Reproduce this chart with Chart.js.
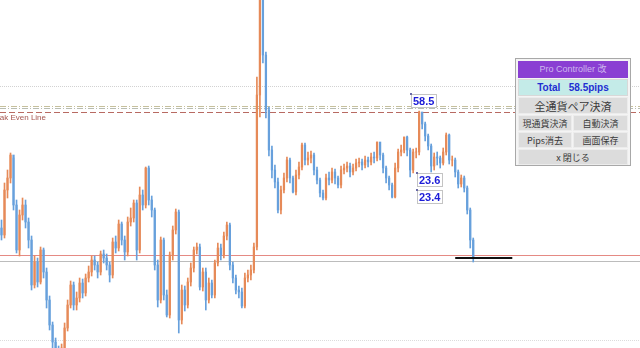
<!DOCTYPE html>
<html>
<head>
<meta charset="utf-8">
<script src="https://cdn.jsdelivr.net/npm/chart.js@4/dist/chart.umd.min.js"></script>
<style>
  html, body { margin: 0; padding: 0; background: #ffffff; }
  #wrap { position: relative; width: 640px; height: 348px; overflow: hidden; }
  canvas { position: absolute; left: 0; top: 0; }
  #panel { position: absolute; left: 515px; top: 58px; width: 114px; height: 106px;
    border: 1px solid #a8a8a8; background: #f4f4f4; font-family: "Noto Sans CJK JP", "Liberation Sans", sans-serif; }
  #panel div { position: absolute; box-sizing: border-box; text-align: center; white-space: nowrap; }
  .hdr { left: 2px; top: 2px; width: 110px; height: 17px; background: #8a3fd3; color: #cdb8ee; font-size: 9px; line-height: 17px; font-family: "Liberation Sans", "Noto Sans CJK JP", sans-serif; }
  .tot { left: 2px; top: 20px; width: 110px; height: 17px; background: #c4ebe8; color: #1f2fd2; font-weight: bold; font-size: 10px; line-height: 16px; font-family: "Liberation Sans", sans-serif; border: 1px solid #d8d8d8; }
  .btn { background: #dcdcdc; border: 1px solid #ececec; color: #3a3a3a; font-size: 9px; line-height: 15px; height: 16px; }
</style>
</head>
<body>
<div id="wrap">
  <canvas id="c" width="640" height="348"></canvas>
  <div id="panel">
    <div class="hdr">Pro Controller 改</div>
    <div class="tot">Total&nbsp;&nbsp;&nbsp;58.5pips</div>
    <div class="btn" style="left:2px;top:38px;width:110px;height:17px;font-size:11px;line-height:16px;">全通貨ペア決済</div>
    <div class="btn" style="left:2px;top:56px;width:54px;">現通貨決済</div>
    <div class="btn" style="left:57px;top:56px;width:55px;">自動決済</div>
    <div class="btn" style="left:2px;top:73px;width:54px;">Pips消去</div>
    <div class="btn" style="left:57px;top:73px;width:55px;">画面保存</div>
    <div class="btn" style="left:2px;top:90px;width:110px;">x 閉じる</div>
  </div>
</div>
<script>
// ---- data (price units) ----
const slotCount = 213;
const categories = Array.from({ length: slotCount }, (_, i) => String(i));
const closes = [
  113,158,170,193,143,98,133,143,126,108,
  63,86,66,98,76,48,23,6,-4,-7,
  0,20,43,63,43,50,65,55,70,76,
  88,83,76,94,90,83,73,106,100,124,
  108,96,126,130,145,98,153,143,180,148,
  138,83,48,108,53,33,93,118,136,28,
  58,43,66,80,98,101,61,76,48,65,
  53,85,100,93,112,123,83,70,58,56,
  42,70,73,78,101,253,351,293,238,198,
  178,166,138,158,170,188,170,156,173,181,
  203,188,190,193,178,168,155,150,170,168,
  176,170,163,178,180,182,176,180,185,186,
  183,188,186,191,190,206,193,180,170,163,
  151,180,196,198,211,198,178,196,196,236,
  224,212,202,182,191,190,185,196,213,188,
  188,176,164,170,160,138,108,90
];
const highs = [
  128,165,178,195,190,148,138,150,148,130,
  112,92,90,101,100,80,52,26,10,2,
  4,25,48,67,66,56,70,69,74,82,
  92,92,86,97,98,94,86,110,112,128,
  126,112,131,140,148,148,161,158,181,182,
  152,140,88,111,110,58,96,122,139,138,
  63,62,70,85,101,105,104,80,80,70,
  68,88,105,104,116,126,125,86,73,62,
  60,75,78,83,105,271,352,352,296,241,
  202,183,170,162,175,191,190,172,178,186,
  205,205,196,197,195,181,170,158,174,176,
  180,179,172,182,184,186,185,184,189,190,
  189,192,191,195,196,206,205,195,182,172,
  165,185,199,203,211,212,200,199,200,237,
  235,226,214,204,195,196,192,200,215,214,
  192,190,178,173,172,162,140,110
];
const lows = [
  108,110,150,165,138,95,92,128,120,100,
  58,60,61,64,70,40,18,0,-10,-10,
  -10,-3,17,40,38,38,46,50,52,66,
  72,78,70,73,85,78,66,70,95,97,
  103,88,92,122,126,88,95,138,140,143,
  131,78,41,45,48,31,30,88,114,15,
  24,37,40,62,76,94,58,57,38,45,
  50,50,82,88,90,108,78,65,54,50,
  40,40,66,68,75,98,231,285,230,192,
  170,160,135,134,155,166,165,155,153,169,
  178,183,183,185,173,164,151,148,148,163,
  165,164,160,160,174,176,171,173,177,181,
  178,180,181,183,185,187,188,175,165,158,
  150,150,176,192,195,192,171,175,190,193,
  219,207,198,176,178,183,180,183,193,184,
  182,171,160,161,156,134,100,86
];
const firstOpen = 120;
const currentPrice = 90;
const priceLineFrom = 151;
const priceLineTo = 170;
const levelValues = [262, 242, 240, 236, 93, 87, 8];
const levelColors = ['#d2d2d2', '#c6c09c', '#b8bdb2', '#b86a62', '#e58a84', '#bcbcbc', '#dcdcdc'];
const levelDashes = [[1, 1], [6, 2, 1, 2], [6, 2, 1, 2], [6, 3], [], [], [1, 1]];
const breakEvenText = 'Break Even Line';
const pipTags = ['58.5', '23.6', '23.4'];
const pipTagIdx = [136, 138, 138];
const pipTagVal = [255, 176, 159];

// ---- build datasets ----
const opens = closes.map((c, i) => (i === 0 ? firstOpen : closes[i - 1]));
const bodies = closes.map((c, i) => [opens[i], c]);
const wicks = closes.map((c, i) => [lows[i], highs[i]]);
const upColor = '#e68a58';
const downColor = '#67a0dc';
const dirColor = (i) => (closes[i] >= opens[i] ? upColor : downColor);
const priceLine = categories.map((_, i) => (i >= priceLineFrom && i <= priceLineTo) ? currentPrice : null);

const overlay = {
  id: 'overlay',
  beforeDatasetsDraw(chart) {
    const ctx = chart.ctx, y = chart.scales.y, area = chart.chartArea;
    ctx.save();
    levelValues.forEach((v, k) => {
      const py = Math.round(y.getPixelForValue(v)) + 0.5;
      ctx.beginPath();
      ctx.setLineDash(levelDashes[k]);
      ctx.strokeStyle = levelColors[k];
      ctx.lineWidth = 1;
      ctx.moveTo(area.left, py);
      ctx.lineTo(area.right, py);
      ctx.stroke();
    });
    ctx.setLineDash([]);
    ctx.font = '8px "Liberation Sans", Arial, sans-serif';
    ctx.fillStyle = '#a5554f';
    ctx.textAlign = 'right';
    ctx.textBaseline = 'alphabetic';
    ctx.fillText(breakEvenText, 46, y.getPixelForValue(levelValues[3]) + 8);
    ctx.restore();
  },
  afterDatasetsDraw(chart) {
    const ctx = chart.ctx, x = chart.scales.x, y = chart.scales.y;
    ctx.save();
    ctx.font = 'bold 11px "Liberation Sans", Arial, sans-serif';
    ctx.textAlign = 'left';
    ctx.textBaseline = 'middle';
    pipTags.forEach((t, k) => {
      const ax = Math.round(x.getPixelForValue(pipTagIdx[k]));
      const ay = Math.round(y.getPixelForValue(pipTagVal[k]));
      const w = Math.ceil(ctx.measureText(t).width) + 3;
      ctx.fillStyle = '#ffffff';
      ctx.fillRect(ax + 1, ay + 1, w, 13);
      ctx.strokeStyle = '#c4c4c4';
      ctx.lineWidth = 1;
      ctx.strokeRect(ax + 1.5, ay + 1.5, w, 13);
      ctx.fillStyle = '#6a6aa8';
      ctx.fillRect(ax, ay, 2, 2);
      ctx.fillStyle = '#1c1cd8';
      ctx.fillText(t, ax + 3, ay + 8.5);
    });
    ctx.restore();
  }
};

new Chart(document.getElementById('c'), {
  type: 'bar',
  data: {
    labels: categories,
    datasets: [
      {
        type: 'line',
        data: priceLine,
        borderColor: '#111111',
        borderWidth: 2,
        pointRadius: 0,
        spanGaps: false,
        order: 0
      },
      {
        type: 'bar',
        data: bodies,
        barThickness: 1.6,
        grouped: false,
        borderSkipped: false,
        backgroundColor: (c) => dirColor(c.dataIndex),
        order: 1
      },
      {
        type: 'bar',
        data: wicks,
        barThickness: 1,
        grouped: false,
        borderSkipped: false,
        backgroundColor: (c) => dirColor(c.dataIndex),
        order: 2
      }
    ]
  },
  options: {
    responsive: false,
    devicePixelRatio: 1,
    animation: false,
    events: [],
    layout: { padding: 0 },
    plugins: { legend: { display: false }, tooltip: { enabled: false } },
    scales: {
      x: { display: false, offset: true },
      y: { display: false, min: 0, max: 348 }
    }
  },
  plugins: [overlay]
});
</script>
</body>
</html>
